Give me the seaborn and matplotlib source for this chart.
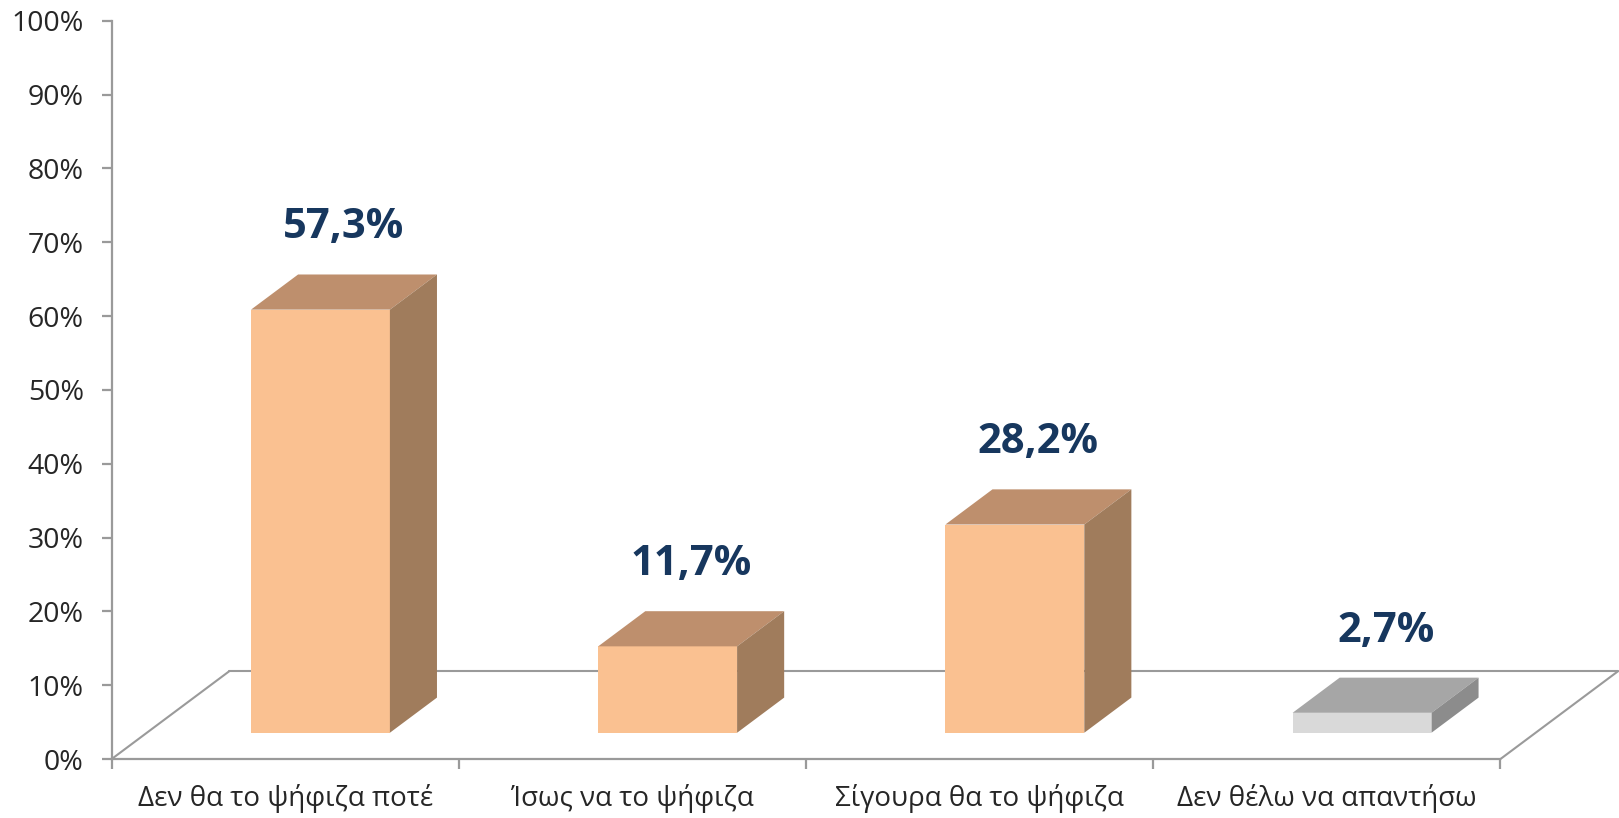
import matplotlib
matplotlib.use("Agg")
import matplotlib.pyplot as plt
import pandas as pd
import seaborn as sns
from matplotlib.patches import Polygon

# data
categories = ["Δεν θα το ψήφιζα ποτέ", "Ίσως να το ψήφιζα",
              "Σίγουρα θα το ψήφιζα", "Δεν θέλω να απαντήσω"]
values = [57.3, 11.7, 28.2, 2.7]
value_labels = ["57,3%", "11,7%", "28,2%", "2,7%"]
front_colors = ["#FAC191", "#FAC191", "#FAC191", "#D9D9D9"]
top_colors = ["#BE8F6D", "#BE8F6D", "#BE8F6D", "#A6A6A6"]
side_colors = ["#A07C5C", "#A07C5C", "#A07C5C", "#8C8C8C"]
yticks = list(range(0, 101, 10))

sns.set_style("white")
plt.rcParams['font.family'] = ['Open Sans', 'DejaVu Sans']

grey = "#9A9A9A"
# fake 3d floor: depth vector in (category units, percent units)
depth_x, depth_y = 0.339, 11.9
front, back = 0.30, 0.70
bar_w = 0.4

fig = plt.figure(figsize=(16.19, 8.18), dpi=100)
ax = fig.add_axes([0.0689, 0.072, 0.8578, 0.9027])

df = pd.DataFrame({"cat": categories, "val": values})
sns.barplot(data=df, x="cat", y="val", hue="cat", palette=front_colors,
            saturation=1, width=bar_w, bottom=front * depth_y, linewidth=0,
            legend=False, ax=ax, zorder=3)

dx = (back - front) * depth_x
dy = (back - front) * depth_y
for i, p in enumerate(ax.patches):
    p.set_x(p.get_x() + front * depth_x)
    x0 = p.get_x()
    x1 = x0 + p.get_width()
    b = p.get_y()
    t = b + p.get_height()
    top = [(x0, t), (x0 + dx, t + dy), (x1 + dx, t + dy), (x1, t)]
    side = [(x1, b), (x1 + dx, b + dy), (x1 + dx, t + dy), (x1, t)]
    ax.add_patch(Polygon(top, closed=True, facecolor=top_colors[i], edgecolor="none", zorder=3, clip_on=False))
    ax.add_patch(Polygon(side, closed=True, facecolor=side_colors[i], edgecolor="none", zorder=3, clip_on=False))
    ax.text((x0 + x1) / 2 + dx / 2, t + dy + 6.3, value_labels[i],
            ha="center", va="center", fontsize=30, fontweight="bold",
            color="#17375E", zorder=5)

# floor outline
n = len(categories)
lo, hi = -0.5, n - 0.5
ax.plot([lo, lo + depth_x], [0, depth_y], color=grey, lw=1.5, zorder=1, clip_on=False)
ax.plot([lo + depth_x, hi + depth_x], [depth_y, depth_y], color=grey, lw=1.5, zorder=1, clip_on=False)
ax.plot([hi, hi + depth_x], [0, depth_y], color=grey, lw=1.5, zorder=1, clip_on=False)

ax.set_xlim(lo, hi)
ax.set_ylim(0, 100)
sns.despine(ax=ax)
for s in ["left", "bottom"]:
    ax.spines[s].set_color(grey)
    ax.spines[s].set_linewidth(1.6)

ax.set_yticks(yticks)
ax.set_yticklabels([f"{v}%" for v in yticks])
ax.set_xticks(range(n))
ax.set_xticklabels(categories)
ax.set_xticks([k - 0.5 for k in range(n + 1)], minor=True)
ax.tick_params(axis="y", length=7, width=1.6, color=grey, labelsize=20.5, pad=13, left=True)
ax.tick_params(axis="x", which="major", length=0, labelsize=20, pad=18)
ax.tick_params(axis="x", which="minor", length=7, width=1.6, color=grey, bottom=True)
ax.set_xlabel("")
ax.set_ylabel("")

fig.savefig("out.png", dpi=100)
